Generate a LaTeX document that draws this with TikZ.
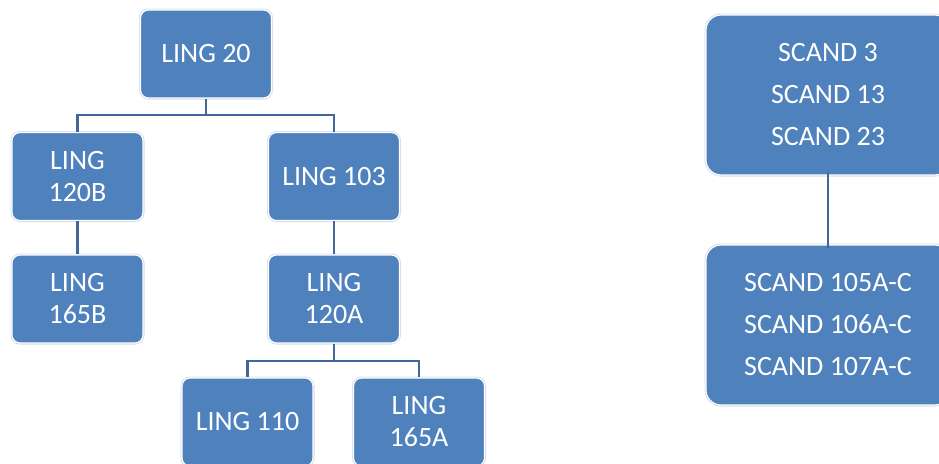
\documentclass[tikz,border=0pt]{standalone}
\usepackage{fontspec}
\setmainfont{Carlito}
\begin{document}
\begin{tikzpicture}[x=1pt,y=-1pt,
  box/.style={rectangle, rounded corners=8pt, fill=boxblue, draw=white, line width=1.2pt,
    preaction={draw=edgegray, line width=3pt},
    minimum width=131pt, minimum height=88pt, inner sep=0pt, align=center,
    text=white, font=\fontsize{28}{32}\selectfont},
  bigbox/.style={box, rounded corners=15pt, minimum width=244pt, minimum height=160pt,
    font=\fontsize{28}{42}\selectfont},
  conn/.style={draw=linkblue, line width=2.8pt}]
\definecolor{boxblue}{HTML}{4F81BD}
\definecolor{edgegray}{HTML}{D6DEE9}
\definecolor{linkblue}{HTML}{41679A}
\useasboundingbox (0,0) rectangle (939,463);
\clip (0,0) rectangle (939,463);
\fill[white] (0,0) rectangle (939,463);
% connectors first
\coordinate (j1) at (206,115);
\coordinate (j2) at (334,361);
\node[box] (l20) at (206,54) {LING 20};
\node[box] (l120b) at (77.5,176.5) {LING\\120B};
\node[box] (l103) at (334,176.5) {LING 103};
\node[box] (l165b) at (77.5,299) {LING\\165B};
\node[box] (l120a) at (334,299) {LING\\120A};
\node[box] (l110) at (247.5,422) {LING 110};
\node[box] (l165a) at (419,422) {LING\\165A};
\node[bigbox] (s1) at (828,95) {SCAND 3\\SCAND 13\\SCAND 23};
\node[bigbox] (s2) at (828,325) {SCAND 105A-C\\SCAND 106A-C\\SCAND 107A-C};
\begin{scope}[on background layer/.style={}]
\draw[conn] (l20.south) -- (j1) -| (l120b.north);
\draw[conn] (j1) -| (l103.north);
\draw[conn] (l120b.south) -- (l165b.north);
\draw[conn] (l103.south) -- (l120a.north);
\draw[conn] (l120a.south) -- (j2) -| (l110.north);
\draw[conn] (j2) -| (l165a.north);
\draw[conn] ([yshift=4pt]s1.south) -- ([yshift=-4pt]s2.north);
\end{scope}
\end{tikzpicture}
\end{document}
